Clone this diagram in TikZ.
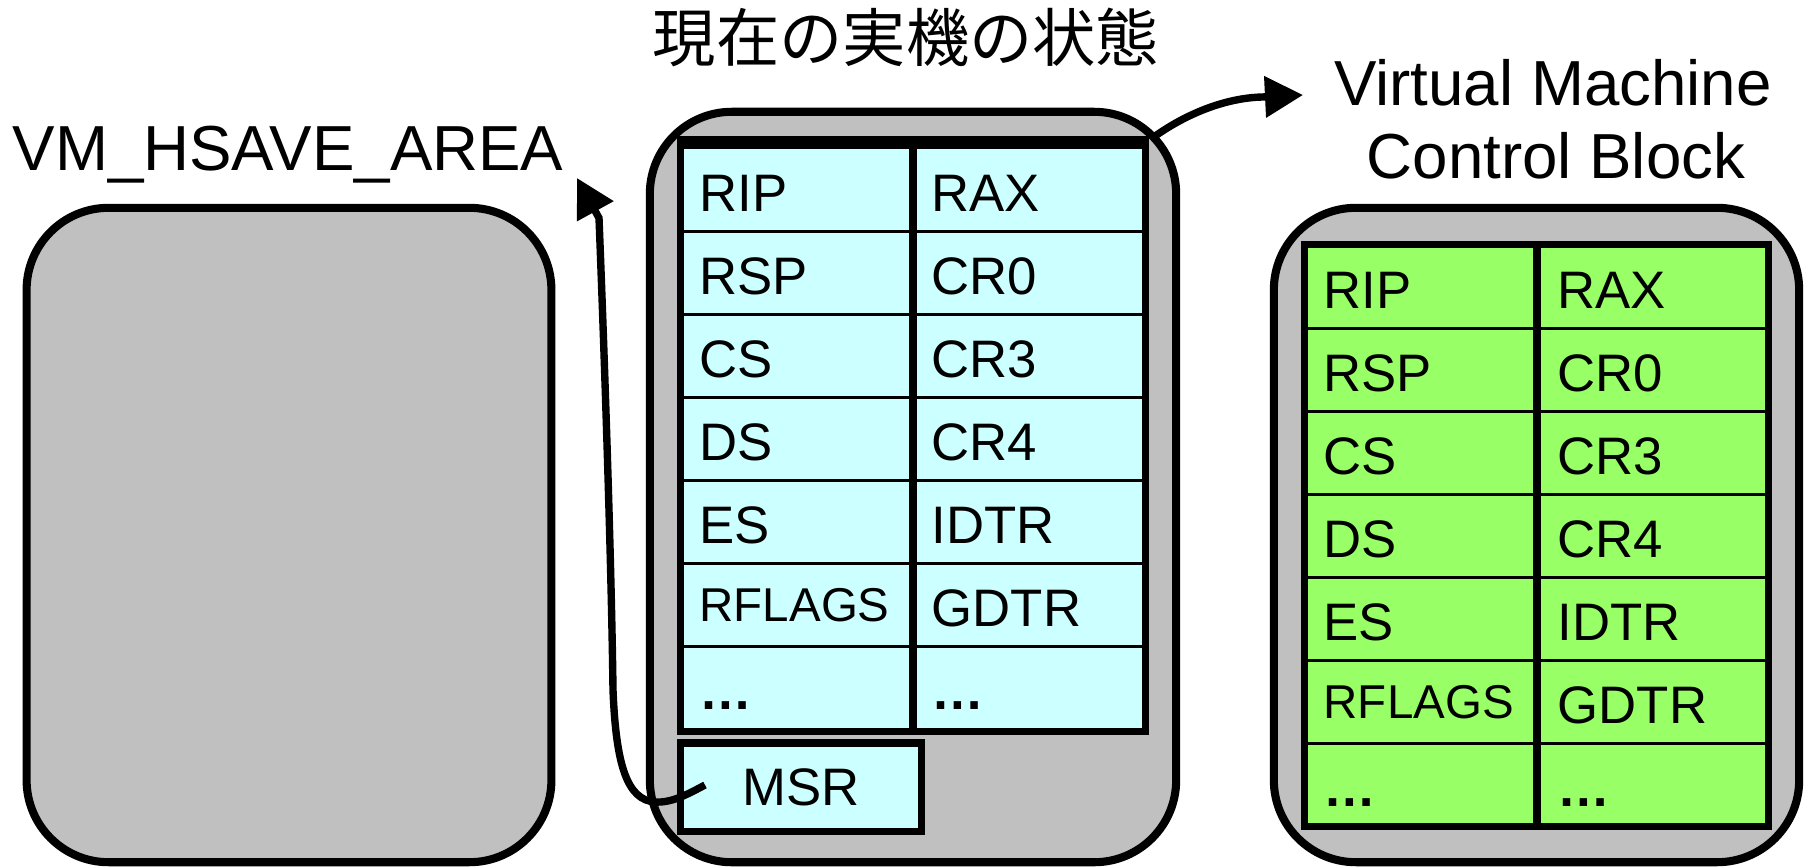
\documentclass[tikz,border=0pt]{standalone}
\usepackage{fontspec}
\setmainfont{Liberation Sans}
\newfontfamily\cjkfont{Noto Sans CJK JP}
\usetikzlibrary{arrows.meta}
\definecolor{boxgray}{RGB}{192,192,192}
\definecolor{regcyan}{RGB}{204,255,255}
\definecolor{reggreen}{RGB}{153,255,102}
\newcommand\regcells[4]{%
  \foreach \l/\r [count=\i from 0] in {RIP/RAX,RSP/CR0,CS/CR3,DS/CR4,ES/IDTR,RFLAGS/GDTR,\textbf{…}/\textbf{…}}{%
    \pgfmathsetmacro\yy{#4+83*\i}%
    \ifnum\i=5
      \node[flagtext] (#1l\i) at (#2,\yy) {\l};
    \else
      \node[regtext] (#1l\i) at (#2,\yy) {\l};
    \fi
    \node[regtext] (#1r\i) at (#3,\yy) {\r};
  }}
\begin{document}
\begin{tikzpicture}[x=0.01cm,y=-0.01cm,
  roundbox/.style={draw, line width=2.3pt, fill=boxgray, rounded corners=0.82cm, inner sep=0pt},
  tablebox/.style={draw, line width=2pt, inner sep=0pt},
  regtext/.style={font=\fontsize{15}{18}\selectfont, inner sep=0pt, anchor=base west},
  flagtext/.style={font=\fontsize{13.5}{16}\selectfont, inner sep=0pt, anchor=base west, yshift=1.4pt},
  rowline/.style={line width=0.85pt},
  divline/.style={line width=2.2pt},
  bigtext/.style={font=\fontsize{18.1}{22}\selectfont, inner sep=0pt},
  conn/.style={line width=2.1pt, -{Triangle[length=0.38cm,width=0.40cm]}}
]
\useasboundingbox (0,0) rectangle (1812,866);

% outer rounded boxes
\node[roundbox, minimum width=5.245cm, minimum height=6.54cm] (hsave) at (289,535) {};
\node[roundbox, minimum width=5.26cm, minimum height=7.50cm] (real) at (913,487) {};
\node[roundbox, minimum width=5.25cm, minimum height=6.54cm] (vmcb) at (1536.5,535) {};

% current state table (cyan)
\node[tablebox, fill=regcyan, minimum width=4.64cm, minimum height=5.85cm] (cur) at (913,438.5) {};
\foreach \y in {231,314,397,480,563,646} \draw[rowline] (681,\y) -- (1145,\y);
\draw[divline] (913,146) -- (913,731);
\draw[line width=3.4pt] (cur.north west) -- (cur.north east);
\regcells{c}{699}{931}{211}

% MSR box
\node[tablebox, fill=regcyan, minimum width=2.40cm, minimum height=0.88cm,
      font=\fontsize{15}{18}\selectfont] (msr) at (801,787) {MSR};

% VMCB table (green)
\node[tablebox, fill=reggreen, minimum width=4.63cm, minimum height=5.81cm] (vtab) at (1536.5,535.5) {};
\foreach \y in {328,411,494,577,660,743} \draw[rowline] (1305,\y) -- (1768,\y);
\draw[divline] (1537,245) -- (1537,826);
\regcells{g}{1323}{1557}{308}

% labels
\node[font=\cjkfont\fontsize{18}{22}\selectfont, inner sep=0pt, anchor=base] (title) at (906,61) {現在の実機の状態};
\node[bigtext, anchor=base west] (hlabel) at (12,170) {VM\_HSAVE\_AREA};
\node[bigtext, anchor=base] (vmc1) at (1553,105) {Virtual Machine};
\node[bigtext, anchor=base] (vmc2) at (1556,178) {Control Block};

% connectors
\coordinate (msrs) at (705,785);
\coordinate (htip) at (577,178);
\coordinate (vstart) at (1151,139);
\coordinate (vtip) at (1303,95);
\draw[conn] (msrs) .. controls (688,794) and (672,803) .. (655,802)
  .. controls (627,800) and (616,765) .. (613,690)
  .. controls (611,540) and (603,320) .. (599,218) -- (htip);
\draw[conn] (vstart) .. controls (1185,114) and (1225,98) .. (1262,97) -- (vtip);
\end{tikzpicture}
\end{document}
